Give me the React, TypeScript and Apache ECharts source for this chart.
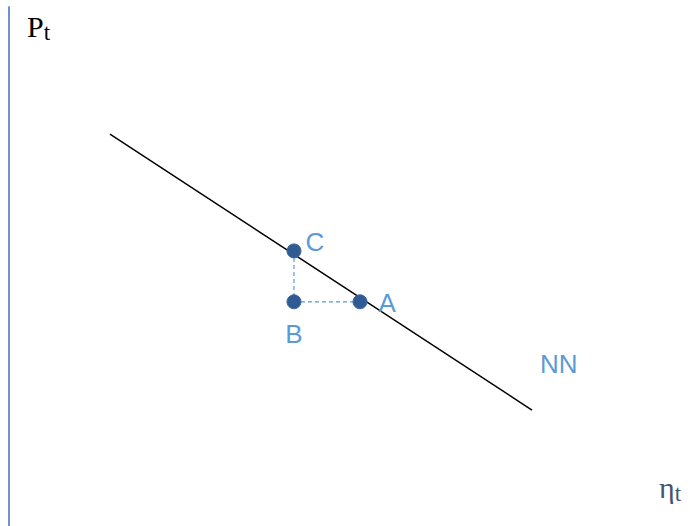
import React, { useEffect, useRef } from "react";
import * as echarts from "echarts";

const curveNN: [number, number][] = [
  [15.05, 75.5],
  [77.94, 22.35],
];
const pointNames = ["C", "B", "A"];
const pointX = [42.47, 42.47, 52.31];
const pointY = [53.0, 43.2, 43.2];
const dashC_B: [number, number][] = [
  [42.47, 53.0],
  [42.47, 43.2],
];
const dashB_A: [number, number][] = [
  [42.47, 43.2],
  [52.31, 43.2],
];

export default function App() {
  const ref = useRef<HTMLDivElement>(null);
  useEffect(() => {
    document.body.style.margin = "0";
    if (!ref.current) return;
    const chart = echarts.init(ref.current, null, { renderer: "svg" });
    const labelCfg: Record<string, any> = {
      C: { position: "right", distance: 4, offset: [0, -9] },
      B: { position: "bottom", distance: 12, offset: [0, 0] },
      A: { position: "right", distance: 11, offset: [0, 1] },
    };
    chart.setOption({
      animation: false,
      backgroundColor: "#ffffff",
      grid: { left: 9, right: 10, top: 7, bottom: 0 },
      xAxis: {
        type: "value",
        min: 0,
        max: 100,
        show: false,
      },
      yAxis: {
        type: "value",
        min: 0,
        max: 100,
        axisLine: { show: true, lineStyle: { color: "#6f93cf", width: 2 } },
        axisTick: { show: false },
        axisLabel: { show: false },
        splitLine: { show: false },
      },
      series: [
        {
          type: "line",
          data: curveNN,
          symbol: "none",
          lineStyle: { color: "#000000", width: 1.5 },
          z: 2,
        },
        {
          type: "line",
          data: dashC_B,
          symbol: "none",
          lineStyle: { color: "#5b9bd5", width: 1.2, type: [4, 3] },
          z: 3,
        },
        {
          type: "line",
          data: dashB_A,
          symbol: "none",
          lineStyle: { color: "#5b9bd5", width: 1.2, type: [4, 3] },
          z: 3,
        },
        {
          type: "scatter",
          symbolSize: 14,
          z: 5,
          itemStyle: { color: "#2f5b92", borderColor: "#3d6aa0", borderWidth: 1, opacity: 1 },
          data: pointNames.map((n, i) => ({
            name: n,
            value: [pointX[i], pointY[i]],
            label: {
              show: true,
              formatter: n,
              color: "#5b9bd5",
              fontSize: 26,
              fontFamily: "Liberation Sans",
              ...labelCfg[n],
            },
          })),
        },
      ],
      graphic: [
        {
          type: "text",
          left: 540,
          top: 351,
          style: {
            text: "NN",
            fill: "#5b9bd5",
            fontSize: 26,
            fontFamily: "Liberation Sans",
          },
        },
        {
          type: "text",
          left: 27,
          top: 11,
          style: {
            text: "{p|P}{s|t}",
            rich: {
              p: { fontSize: 30, fontFamily: "Liberation Serif", fill: "#000000" },
              s: { fontSize: 23, fontFamily: "Liberation Serif", fill: "#000000", padding: [12, 0, 0, 0] },
            },
          },
        },
        {
          type: "text",
          left: 659,
          top: 472,
          style: {
            text: "{p|η}{s|t}",
            rich: {
              p: { fontSize: 30, fontFamily: "Liberation Serif", fill: "#44546a" },
              s: { fontSize: 23, fontFamily: "Liberation Serif", fill: "#44546a", padding: [12, 0, 0, 0] },
            },
          },
        },
      ],
    });
    return () => chart.dispose();
  }, []);
  return <div ref={ref} style={{ width: 690, height: 526 }} />;
}
